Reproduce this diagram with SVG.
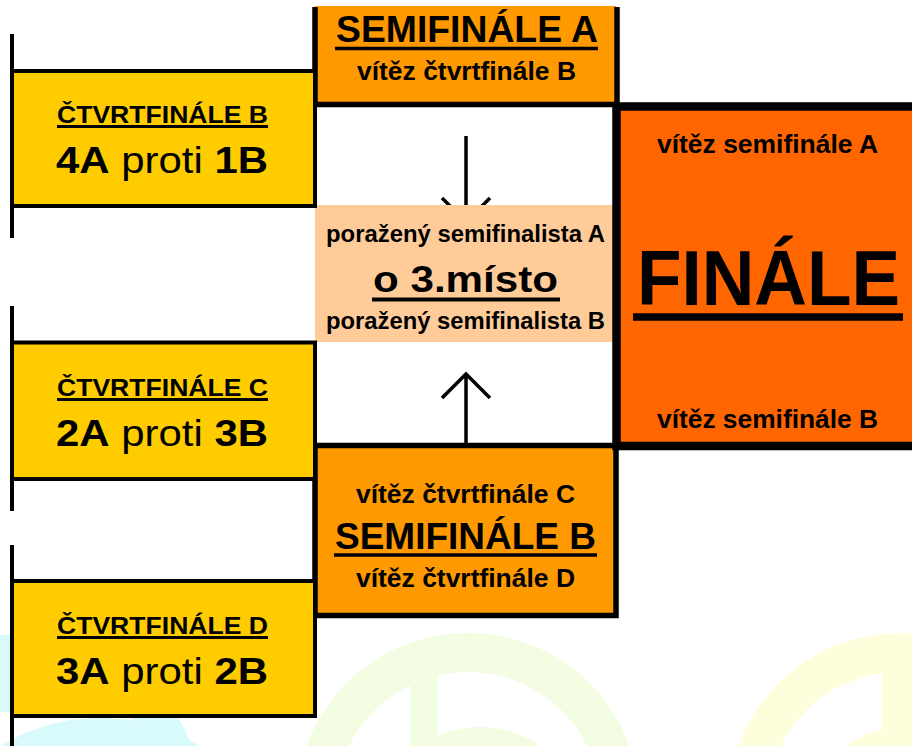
<svg xmlns="http://www.w3.org/2000/svg" width="912" height="746" viewBox="0 0 912 746">
<style>
text { font-family: "Liberation Sans", Arial, Helvetica, sans-serif; fill: #000; }
.b { font-weight: bold; }
.qf { fill: #FFCC00; stroke: #000; stroke-width: 4; }
.sf { fill: #FF9900; stroke: #000; stroke-width: 5.5; }
.sfa { fill: #FF9900; }
.fin { fill: #FF6600; stroke: #000; stroke-width: 8.5; }
.p3 { fill: #FFCC99; }
.ul { stroke: #000; fill: none; }
.br { stroke: #000; stroke-width: 4; fill: none; }
.arr { stroke: #000; stroke-width: 3.5; fill: none; stroke-linejoin: miter; }
.wc { fill: none; stroke-width: 39; }
</style>
<rect x="0" y="0" width="912" height="746" fill="#FFFFFF"/>
<g id="watermark">
  <circle cx="30" cy="805" r="152.5" class="wc" stroke="#D8FAFA"/>
  <rect x="-30" y="672" width="42" height="40" fill="#D8FAFA"/>
  <circle cx="100" cy="911" r="193" fill="#D8FAFA"/>
  <circle cx="468" cy="805" r="152.5" class="wc" stroke="#F3FDE2"/>
  <rect x="410" y="672" width="28" height="74" fill="#F3FDE2"/>
  <circle cx="480" cy="830" r="103" fill="#F3FDE2"/>
  <circle cx="900" cy="805" r="152.5" class="wc" stroke="#FFFEDC"/>
  <rect x="882" y="672" width="30" height="74" fill="#FFFEDC"/>
  <circle cx="905" cy="830" r="103" fill="#FFFEDC"/>
</g>
<g id="connectors">
  <path class="br" d="M12,34 V238 M12,306 V511 M12,545 V746"/>
  <path class="arr" d="M466,136 V222 M442,198 L466,222 L490,198"/>
  <path class="arr" d="M466,446 V374 M442,398 L466,374 L490,398"/>
</g>
<g id="misto3">
  <rect class="p3" x="315" y="205" width="298" height="137"/>
  <text class="b" x="465.5" y="242" font-size="24" text-anchor="middle" textLength="279" lengthAdjust="spacingAndGlyphs">poražený semifinalista A</text>
  <text class="b" x="465.5" y="292" font-size="37" text-anchor="middle" textLength="185" lengthAdjust="spacingAndGlyphs">o 3.místo</text>
  <line class="ul" x1="372" y1="299.5" x2="560" y2="299.5" stroke-width="4"/>
  <text class="b" x="465.5" y="329" font-size="24" text-anchor="middle" textLength="279" lengthAdjust="spacingAndGlyphs">poražený semifinalista B</text>
</g>
<g id="semifinale-a">
  <rect class="sfa" x="315" y="6" width="301" height="98"/>
  <path class="ul" d="M315,7 V104.5 H617 V7" stroke-width="5.5"/>
  <text class="b" x="467" y="42" font-size="36.5" text-anchor="middle" textLength="262" lengthAdjust="spacingAndGlyphs">SEMIFINÁLE A</text>
  <line class="ul" x1="335" y1="48.5" x2="598" y2="48.5" stroke-width="3.5"/>
  <text class="b" x="466.5" y="80" font-size="26" text-anchor="middle" textLength="219" lengthAdjust="spacingAndGlyphs">vítěz čtvrtfinále B</text>
</g>
<g id="semifinale-b">
  <rect class="sf" x="315" y="445.5" width="301" height="170"/>
  <text class="b" x="465.5" y="503" font-size="26" text-anchor="middle" textLength="219" lengthAdjust="spacingAndGlyphs">vítěz čtvrtfinále C</text>
  <text class="b" x="465.5" y="548.5" font-size="36.5" text-anchor="middle" textLength="261" lengthAdjust="spacingAndGlyphs">SEMIFINÁLE B</text>
  <line class="ul" x1="334" y1="555" x2="597" y2="555" stroke-width="3.5"/>
  <text class="b" x="465.5" y="587" font-size="26" text-anchor="middle" textLength="219" lengthAdjust="spacingAndGlyphs">vítěz čtvrtfinále D</text>
</g>
<g id="finale">
  <rect class="fin" x="616.5" y="106.5" width="310" height="339.5"/>
  <text class="b" x="767.5" y="153" font-size="25" text-anchor="middle" textLength="221" lengthAdjust="spacingAndGlyphs">vítěz semifinále A</text>
  <text class="b" x="768.5" y="305" font-size="77" text-anchor="middle" textLength="263" lengthAdjust="spacingAndGlyphs">FINÁLE</text>
  <line class="ul" x1="633" y1="317" x2="903" y2="317" stroke-width="7.5"/>
  <text class="b" x="767.5" y="428" font-size="25" text-anchor="middle" textLength="221" lengthAdjust="spacingAndGlyphs">vítěz semifinále B</text>
</g>
<g id="ctvrtfinale-b">
  <rect class="qf" x="12" y="71" width="303" height="135"/>
  <text class="b" x="57" y="123" font-size="23" textLength="211" lengthAdjust="spacingAndGlyphs">ČTVRTFINÁLE B</text>
  <line class="ul" x1="57" y1="126.5" x2="268" y2="126.5" stroke-width="3"/>
  <text x="56" y="173" font-size="37" textLength="212" lengthAdjust="spacingAndGlyphs"><tspan class="b">4A</tspan> proti <tspan class="b">1B</tspan></text>
</g>
<g id="ctvrtfinale-c">
  <rect class="qf" x="12" y="342.5" width="303" height="136.5"/>
  <text class="b" x="57" y="396" font-size="23" textLength="211" lengthAdjust="spacingAndGlyphs">ČTVRTFINÁLE C</text>
  <line class="ul" x1="57" y1="399.5" x2="268" y2="399.5" stroke-width="3"/>
  <text x="56" y="446" font-size="37" textLength="212" lengthAdjust="spacingAndGlyphs"><tspan class="b">2A</tspan> proti <tspan class="b">3B</tspan></text>
</g>
<g id="ctvrtfinale-d">
  <rect class="qf" x="12" y="581" width="303" height="135"/>
  <text class="b" x="57" y="634" font-size="23" textLength="211" lengthAdjust="spacingAndGlyphs">ČTVRTFINÁLE D</text>
  <line class="ul" x1="57" y1="637.5" x2="268" y2="637.5" stroke-width="3"/>
  <text x="56" y="684" font-size="37" textLength="212" lengthAdjust="spacingAndGlyphs"><tspan class="b">3A</tspan> proti <tspan class="b">2B</tspan></text>
</g>
</svg>
